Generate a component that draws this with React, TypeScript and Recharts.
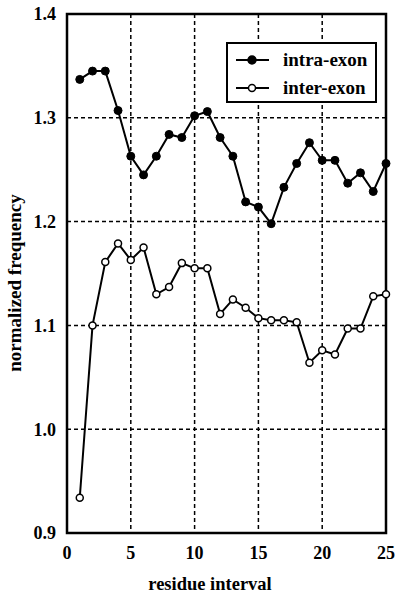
import { CartesianGrid, Line, LineChart, ReferenceArea, XAxis, YAxis } from "recharts";

const residues = [1, 2, 3, 4, 5, 6, 7, 8, 9, 10, 11, 12, 13, 14, 15, 16, 17, 18, 19, 20, 21, 22, 23, 24, 25];
const intraExon = [
  1.337, 1.345, 1.345, 1.307, 1.263, 1.245, 1.263, 1.284, 1.281, 1.302, 1.306, 1.281, 1.263, 1.219, 1.214,
  1.198, 1.233, 1.256, 1.276, 1.259, 1.259, 1.237, 1.247, 1.229, 1.256,
];
const interExon = [
  0.934, 1.1, 1.161, 1.179, 1.163, 1.175, 1.13, 1.137, 1.16, 1.155, 1.155, 1.111, 1.125, 1.117, 1.107,
  1.105, 1.105, 1.103, 1.064, 1.076, 1.072, 1.097, 1.097, 1.128, 1.13,
];
const xTicks = [0, 5, 10, 15, 20, 25];
const yTicks = [0.9, 1.0, 1.1, 1.2, 1.3, 1.4];
const seriesNames = ["intra-exon", "inter-exon"];

const data = residues.map((r, i) => ({ r, intra: intraExon[i], inter: interExon[i] }));

const font = '"Liberation Serif", "Times New Roman", serif';
const tickStyle = { fill: "#000", fontSize: 18, fontWeight: 700, fontFamily: font };

// legend drawn over the chart so recharts doesn't reserve space for it
function LegendBox() {
  const marks = [
    { fill: "#000", r: 4 },
    { fill: "#fff", r: 3.5 },
  ];
  return (
    <div
      style={{
        position: "absolute",
        left: 226,
        top: 42,
        width: 147,
        height: 57,
        border: "2px solid #000",
        background: "#fff",
        fontFamily: font,
        fontWeight: 700,
        fontSize: 19,
      }}
    >
      {seriesNames.map((name, i) => (
        <div key={name} style={{ position: "absolute", left: 8, top: 6 + i * 28, display: "flex", alignItems: "center" }}>
          <svg width={34} height={20}>
            <line x1={0} y1={10} x2={33} y2={10} stroke="#000" strokeWidth={2} />
            <circle cx={16} cy={10} r={marks[i].r} fill={marks[i].fill} stroke="#000" strokeWidth={1.5} />
          </svg>
          <span style={{ marginLeft: 13, lineHeight: "20px" }}>{name}</span>
        </div>
      ))}
    </div>
  );
}

export default function App() {
  return (
    <div style={{ position: "relative", width: 400, height: 596 }}>
      <style>{"body{margin:0}"}</style>
      <LineChart width={400} height={596} data={data} margin={{ top: 14, right: 14, left: 0, bottom: 0 }}>
        <CartesianGrid stroke="#000" strokeWidth={1.5} strokeDasharray="4 3" />
        <XAxis
          dataKey="r"
          type="number"
          domain={[0, 25]}
          ticks={xTicks}
          height={63}
          tickLine={false}
          axisLine={false}
          tickSize={0}
          tickMargin={13}
          tick={tickStyle}
          label={() => (
            <text x={210} y={590} textAnchor="middle" fill="#000" fontSize={18.5} fontWeight={700} fontFamily={font}>
              residue interval
            </text>
          )}
        />
        <YAxis
          type="number"
          domain={[0.9, 1.4]}
          ticks={yTicks}
          width={67}
          tickLine={false}
          axisLine={false}
          tickSize={0}
          tickMargin={11}
          tick={tickStyle}
          tickFormatter={(v: number) => v.toFixed(1)}
          label={() => (
            <text
              x={14}
              y={283}
              dy="0.35em"
              transform="rotate(-90, 14, 283)"
              textAnchor="middle"
              fill="#000"
              fontSize={19}
              fontWeight={700}
              fontFamily={font}
            >
              normalized frequency
            </text>
          )}
        />
        <ReferenceArea x1={0} x2={25} y1={0.9} y2={1.4} fill="none" stroke="#000" strokeWidth={2.5} ifOverflow="visible" />
        <Line
          dataKey="intra"
          name={seriesNames[0]}
          stroke="#000"
          strokeWidth={2}
          dot={{ r: 4, fill: "#000", stroke: "#000", strokeWidth: 1 }}
          isAnimationActive={false}
        />
        <Line
          dataKey="inter"
          name={seriesNames[1]}
          stroke="#000"
          strokeWidth={2}
          dot={{ r: 3.5, fill: "#fff", stroke: "#000", strokeWidth: 1.5 }}
          isAnimationActive={false}
        />
      </LineChart>
      <LegendBox />
    </div>
  );
}
